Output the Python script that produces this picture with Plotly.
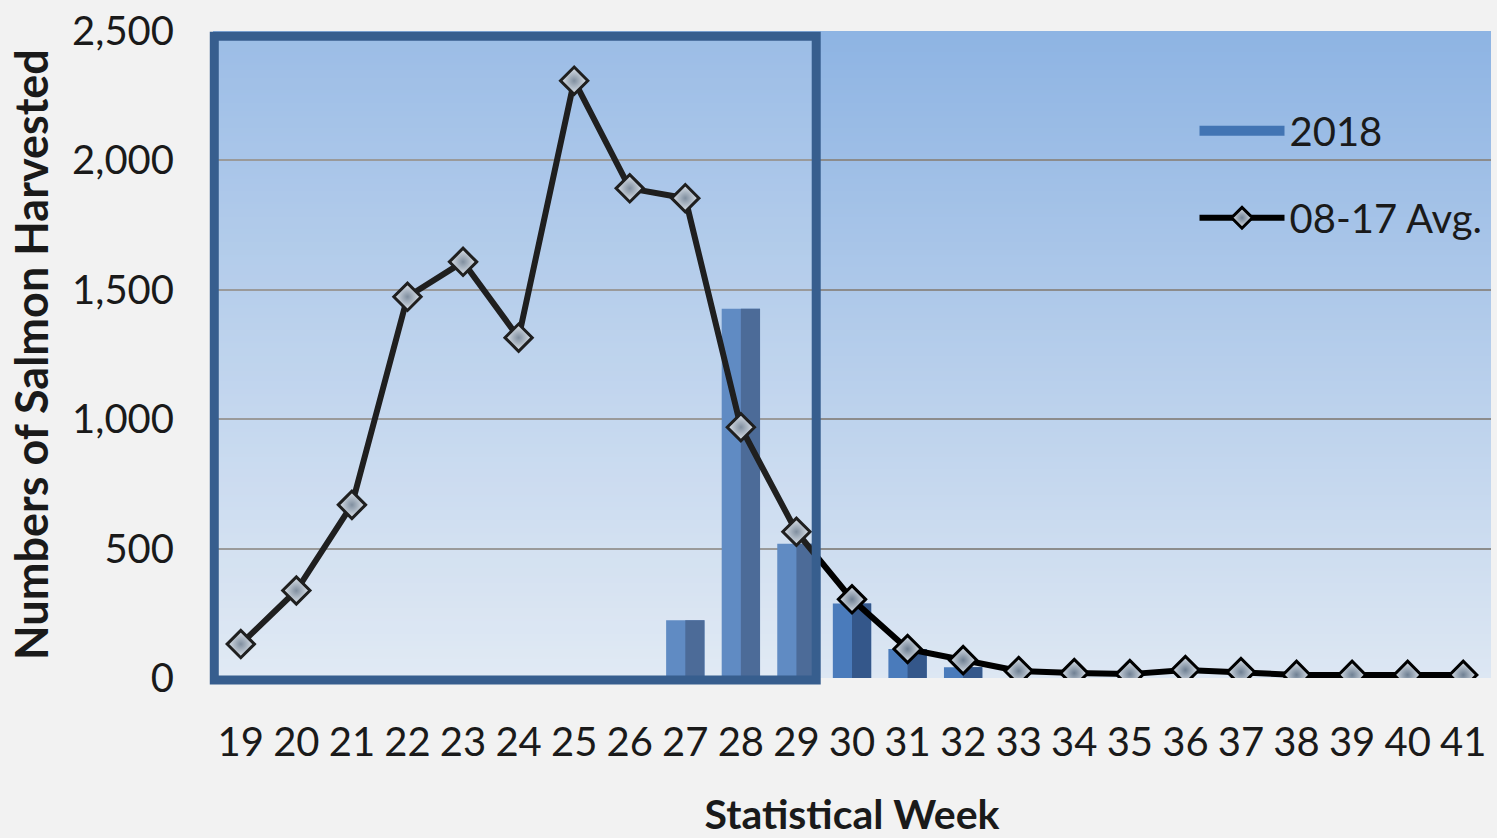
import base64, struct, zlib
import plotly.graph_objects as go

weeks = list(range(19, 42))
avg_0817 = [131, 338, 669, 1473, 1608, 1315, 2308, 1892, 1854, 969, 565, 304,
            112, 69, 27, 19, 15, 31, 23, 12, 12, 12, 12]
harvest_2018 = [0, 0, 0, 0, 0, 0, 0, 0, 223, 1427, 519, 288, 112, 42,
                0, 0, 0, 0, 0, 0, 0, 0, 0]
y_ticks = [0, 500, 1000, 1500, 2000, 2500]
y_ticklabels = ["0", "500", "1,000", "1,500", "2,000", "2,500"]


def gradient_png(top, bottom, h=256, w=2):
    raw = b""
    for i in range(h):
        t = i / (h - 1)
        c = bytes(int(round(top[k] + (bottom[k] - top[k]) * t)) for k in range(3))
        raw += b"\x00" + c * w

    def chunk(tag, data):
        return (struct.pack(">I", len(data)) + tag + data +
                struct.pack(">I", zlib.crc32(tag + data) & 0xffffffff))

    png = b"\x89PNG\r\n\x1a\n"
    png += chunk(b"IHDR", struct.pack(">IIBBBBB", w, h, 8, 2, 0, 0, 0))
    png += chunk(b"IDAT", zlib.compress(raw, 9))
    png += chunk(b"IEND", b"")
    return "data:image/png;base64," + base64.b64encode(png).decode()


bg = gradient_png((142, 180, 227), (221, 231, 243))

FONT = "Lato"

fig = go.Figure()
fig.add_trace(go.Bar(
    x=weeks, y=harvest_2018, name="2018", width=0.69, offset=-0.345,
    marker=dict(color="#4a7bbb", line=dict(width=0)),
    showlegend=False, legendgroup="a",
))
fig.add_trace(go.Bar(
    x=weeks, y=harvest_2018, name="2018", width=0.345, offset=0,
    marker=dict(color="#34578a", line=dict(width=0)),
    showlegend=False, legendgroup="a",
))
# legend-only entry for the bar series (wide swatch like the original)
fig.add_trace(go.Scatter(
    x=[None], y=[None], name="2018", mode="lines",
    line=dict(color="#4274b3", width=22),
    legendgroup="a", showlegend=True,
))
fig.add_trace(go.Scatter(
    x=weeks, y=avg_0817, name="08-17 Avg.", mode="lines+markers",
    line=dict(color="black", width=6),
    marker=dict(symbol="diamond", size=21, color="#dde4ec",
                gradient=dict(type="radial", color="#6f8093"),
                line=dict(color="black", width=3)),
    legendgroup="b",
))

fig.update_layout(
    width=1497, height=838,
    margin=dict(l=213, r=6, t=29, b=160),
    paper_bgcolor="#f2f2f2",
    plot_bgcolor="rgba(0,0,0,0)",
    barmode="overlay",
    font=dict(family=FONT, color="#1a1a1a", size=38),
    showlegend=True,
    legend=dict(x=0.768, y=0.896, xanchor="left", yanchor="top",
                bgcolor="rgba(0,0,0,0)", font=dict(size=40, family=FONT),
                itemwidth=85, tracegroupgap=32, traceorder="grouped"),
    images=[dict(source=bg, xref="paper", yref="paper", x=0, y=1,
                 sizex=1, sizey=1, sizing="stretch", layer="below",
                 xanchor="left", yanchor="top")],
    shapes=[dict(type="rect", xref="paper", yref="paper",
                 x0=0.001, x1=0.472, y0=-0.003, y1=0.992,
                 line=dict(color="#375e8e", width=9),
                 fillcolor="rgba(255,255,255,0.12)", layer="above")],
)
fig.update_xaxes(
    range=[18.5, 41.5], tickmode="array", tickvals=weeks,
    ticktext=[str(w) for w in weeks], showgrid=False, zeroline=False,
    ticks="outside", ticklen=29, tickcolor="rgba(0,0,0,0)",
    tickfont=dict(size=40, family=FONT),
    title=dict(text="<b>Statistical Week</b>", font=dict(size=41, family=FONT), standoff=37),
)
fig.update_yaxes(
    range=[0, 2500], tickmode="array", tickvals=y_ticks, ticktext=y_ticklabels,
    showgrid=True, gridcolor="#8c8c8c", gridwidth=2, zeroline=False,
    ticks="outside", ticklen=30, tickcolor="rgba(0,0,0,0)",
    tickfont=dict(size=40, family=FONT),
    title=dict(text="<b>Numbers of Salmon Harvested</b>", font=dict(size=45, family=FONT), standoff=9),
)

fig.write_html("out.html", config={"displayModeBar": False},
               post_script="document.body.style.margin='0';")
